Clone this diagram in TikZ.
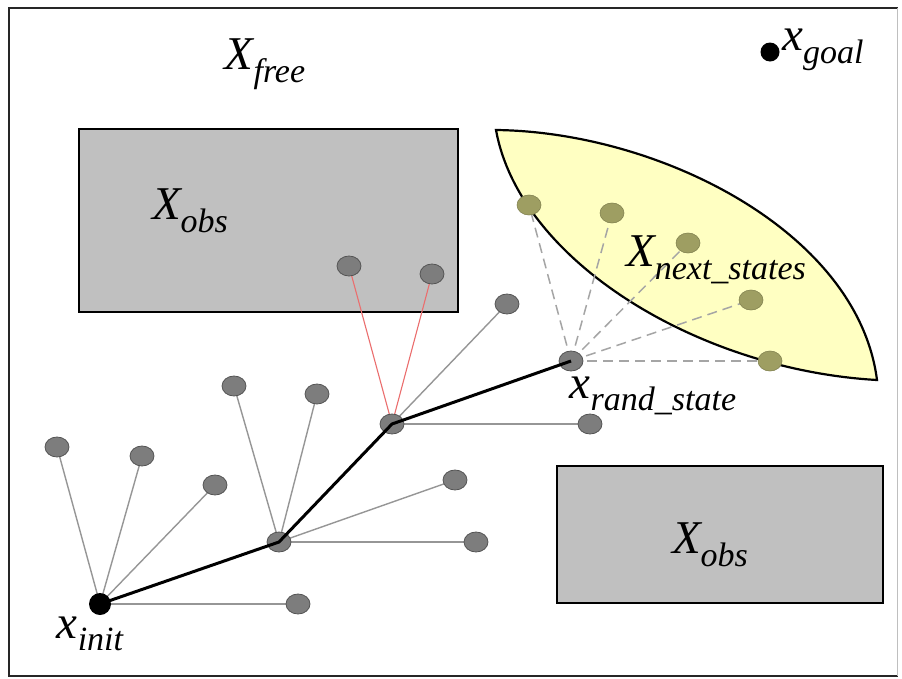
\documentclass[tikz,border=0pt]{standalone}
\usepackage{fontspec}
\setmainfont{Liberation Serif}
\usetikzlibrary{shapes.geometric}
\definecolor{obsgray}{RGB}{192,192,192}
\definecolor{lensfill}{RGB}{255,255,194}
\definecolor{leafgray}{RGB}{125,125,125}
\definecolor{leafline}{RGB}{85,85,85}
\definecolor{olivedot}{RGB}{158,158,98}
\definecolor{olivedraw}{RGB}{130,130,80}
\definecolor{branchgray}{RGB}{150,150,150}
\definecolor{dashgray}{RGB}{165,165,165}
\definecolor{hitred}{RGB}{235,110,110}
\newcommand{\sym}[2]{{\fontsize{47}{50}\selectfont\itshape #1\raisebox{-0.27em}{\fontsize{34}{36}\selectfont #2}}}
\tikzset{
  obstacle/.style={draw=black, line width=2.8pt, fill=obsgray},
  leaf/.style={ellipse, draw=leafline, line width=0.8pt, fill=leafgray, minimum width=24pt, minimum height=20pt, inner sep=0pt},
  treenode/.style={leaf},
  nextstate/.style={ellipse, draw=olivedraw, line width=0.6pt, fill=olivedot, minimum width=24pt, minimum height=20pt, inner sep=0pt},
  rootdot/.style={circle, fill=black, minimum size=22pt, inner sep=0pt},
  goaldot/.style={circle, fill=black, minimum size=19pt, inner sep=0pt},
  branch/.style={draw=branchgray, line width=1.4pt},
  hit/.style={draw=hitred, line width=1.1pt},
  probe/.style={draw=dashgray, line width=1.5pt, dash pattern=on 10pt off 6pt},
  trunk/.style={draw=black, line width=3pt},
  lbl/.style={inner sep=0pt}
}
\begin{document}
\begin{tikzpicture}[x=1pt,y=-1pt]
\useasboundingbox (0,0) rectangle (902,678);
\fill[white] (0,0) rectangle (902,678);

% workspace frame
\draw[line width=2.8pt, black!85] (898,8) -- (9,8) -- (9,676) -- (898,676);
\draw[line width=1pt, black!25] (897,8) -- (897,676);

% obstacles and the region of next states
\path[obstacle] (79,129) rectangle (458,312);
\path[obstacle] (557,466) rectangle (883,603);
\draw[line width=2.2pt, fill=lensfill]
  (496,130) .. controls (660,132) and (858,232) .. (877,380)
            .. controls (700,370) and (520,262) .. (496,130) -- cycle;

% vertex positions
\coordinate (p-init) at (100,604);
\coordinate (p-a) at (279,542);
\coordinate (p-b) at (392,424);
\coordinate (p-c) at (571,361);
\coordinate (p-i1) at (57,447);
\coordinate (p-i2) at (142,456);
\coordinate (p-i3) at (215,485);
\coordinate (p-i4) at (298,604);
\coordinate (p-a1) at (234,386);
\coordinate (p-a2) at (317,394);
\coordinate (p-a3) at (455,480);
\coordinate (p-a4) at (476,542);
\coordinate (p-b1) at (349,266);
\coordinate (p-b2) at (432,274);
\coordinate (p-b3) at (507,304);
\coordinate (p-b4) at (590,424);
\coordinate (p-n1) at (529,205);
\coordinate (p-n2) at (612,213);
\coordinate (p-n3) at (688,243);
\coordinate (p-n4) at (751,300);
\coordinate (p-n5) at (770,361);

% branches below the vertices
\foreach \l in {i1,i2,i3,i4} \draw[branch] (p-init) -- (p-\l);
\foreach \l in {a1,a2,a3,a4} \draw[branch] (p-a) -- (p-\l);
\foreach \l in {b3,b4} \draw[branch] (p-b) -- (p-\l);
\foreach \l in {b1,b2} \draw[hit] (p-b) -- (p-\l);
\foreach \l in {n1,n2,n3,n4,n5} \draw[probe] (p-c) -- (p-\l);

% labels
\node[lbl] (free) at (265,64) {\sym{X}{free}};
\node[lbl] (obs1) at (190,211) {\sym{X}{obs}};
\node[lbl] (obs2) at (710,545) {\sym{X}{obs}};
\node[lbl] (nexts) at (716,260) {\sym{X}{next\_states}};

% goal
\node[goaldot] (goal) at (770,52) {};
\node[lbl, anchor=west] (goallbl) at (782,50) {\sym{x}{goal}};

% leaves of the tree
\foreach \l in {i1,i2,i3,i4,a1,a2,a3,a4,b1,b2,b3,b4}
  \node[leaf] (\l) at (p-\l) {};
% candidate next states
\foreach \l in {n1,n2,n3,n4,n5}
  \node[nextstate] (\l) at (p-\l) {};

% tree vertices
\node[rootdot] (init) at (p-init) {};
\node[treenode] (a) at (p-a) {};
\node[treenode] (b) at (p-b) {};
\node[treenode] (c) at (p-c) {};
\node[lbl] (initlbl) at (90,634) {\sym{x}{init}};
\node[lbl] (randlbl) at (653,396) {\sym{x}{rand\_state}};

% path through the tree
\draw[trunk] (init.center) -- (a.center) -- (b.center) -- (c.center);
\end{tikzpicture}
\end{document}
